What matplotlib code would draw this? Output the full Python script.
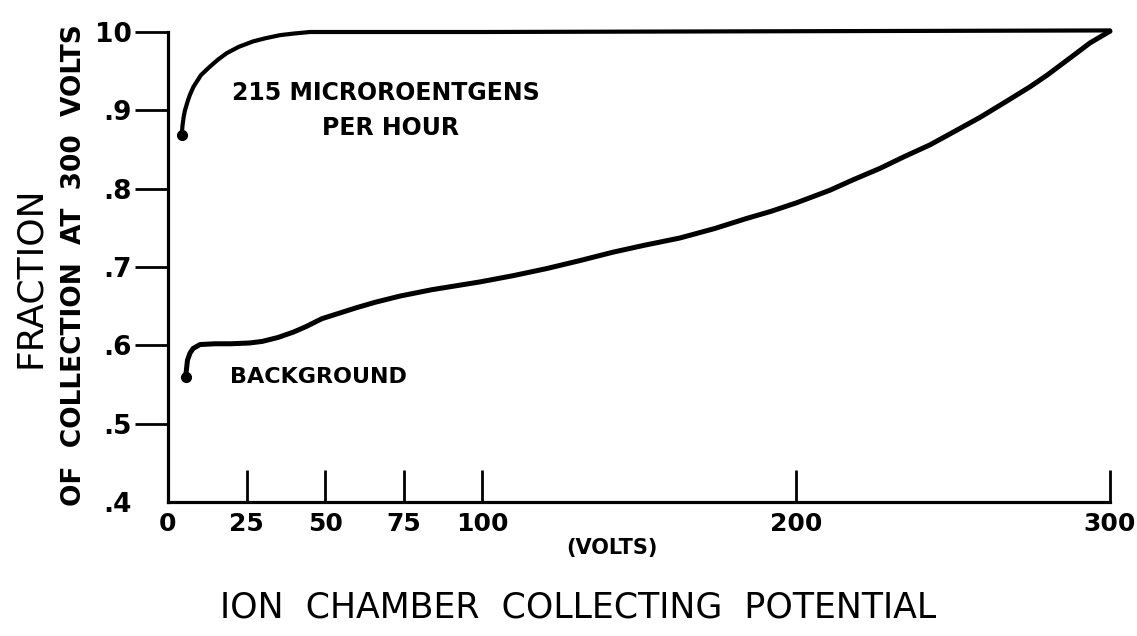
import matplotlib
matplotlib.use("Agg")
import matplotlib.pyplot as plt

# ---- data ----
x_ticks = [0, 25, 50, 75, 100, 200, 300]
x_ticklabels = ["0", "25", "50", "75", "100", "200", "300"]
y_ticks = [0.4, 0.5, 0.6, 0.7, 0.8, 0.9, 1.0]
y_ticklabels = [".4", ".5", ".6", ".7", ".8", ".9", "10"]

high_volts = [4.4, 4.6, 5.0, 5.4, 6.3, 7.0, 8.1, 10.5, 13.4, 16.0, 18.7, 22.5, 27.1, 31.0, 35.7, 40.0, 45.2, 55.0, 100.0, 200.0, 300.0]
high_frac = [0.868, 0.880, 0.892, 0.900, 0.912, 0.920, 0.930, 0.945, 0.956, 0.965, 0.973, 0.981, 0.988, 0.992, 0.996, 0.998, 1.000, 1.000, 1.000, 1.001, 1.002]

bg_volts = [5.6, 5.9, 6.2, 7.0, 8.0, 10.2, 15.0, 20.0, 26.0, 30.0, 35.0, 40.0, 44.0, 49.0, 54.5, 60.0, 66.0, 74.0,
            84.0, 99.4, 110.0, 120.6, 131.0, 141.8, 152.0, 163.0, 174.0, 184.3, 192.0, 200.2, 210.8, 218.0, 226.8,
            234.0, 242.7, 250.0, 258.6, 266.0, 274.5, 280.0, 285.0, 289.0, 293.6, 297.0, 300.0]
bg_frac = [0.559, 0.570, 0.581, 0.590, 0.596, 0.601, 0.602, 0.602, 0.603, 0.605, 0.610, 0.617, 0.624, 0.634, 0.641, 0.648, 0.655, 0.663,
           0.671, 0.681, 0.689, 0.698, 0.708, 0.719, 0.728, 0.737, 0.749, 0.762, 0.771, 0.782, 0.798, 0.811, 0.826,
           0.840, 0.856, 0.872, 0.891, 0.909, 0.930, 0.945, 0.960, 0.972, 0.986, 0.994, 1.001]

start_volts = [high_volts[0], bg_volts[0]]
start_frac = [high_frac[0], bg_frac[0]]

FONT = "DejaVu Sans"


def px(xp, yp):
    return xp / 1137, 1 - yp / 636


fig = plt.figure(figsize=(11.37, 6.36), dpi=100)
ax = fig.add_axes([168 / 1137, 1 - 502 / 636, (1110 - 168) / 1137, (502 - 32) / 636])

ax.plot(high_volts, high_frac, color="black", lw=3.0, solid_capstyle="round", solid_joinstyle="round", clip_on=False)
ax.plot(bg_volts, bg_frac, color="black", lw=3.6, solid_capstyle="round", solid_joinstyle="round", clip_on=False)
ax.plot(start_volts, start_frac, "o", color="black", ms=7, clip_on=False)

ax.set_xlim(0, 300)
ax.set_ylim(0.4, 1.0)

for s in ["top", "right"]:
    ax.spines[s].set_visible(False)
for s in ["left", "bottom"]:
    ax.spines[s].set_linewidth(2.3)
    ax.spines[s].set_capstyle("projecting")

ax.set_xticks(x_ticks)
ax.set_xticklabels(x_ticklabels, fontsize=18, fontweight="bold", family=FONT)
ax.set_yticks(y_ticks)
ax.set_yticklabels(y_ticklabels, fontsize=19, fontweight="bold", family=FONT)

ax.tick_params(axis="x", direction="in", length=23, width=2.0, pad=7)
ax.tick_params(axis="y", direction="out", length=24, width=2.0, pad=2)

# hide tick marks that would sit on the corner
ax.yaxis.get_major_ticks()[0].tick1line.set_visible(False)
ax.xaxis.get_major_ticks()[0].tick1line.set_visible(False)

# annotations
fig.text(*px(232, 93), "215 MICROROENTGENS", fontsize=17, fontweight="bold", family=FONT, va="center", ha="left")
fig.text(*px(391, 128), "PER HOUR", fontsize=17, fontweight="bold", family=FONT, va="center", ha="center")
fig.text(*px(230, 377), "BACKGROUND", fontsize=16, fontweight="bold", family=FONT, va="center", ha="left")

fig.text(*px(612, 548), "(VOLTS)", fontsize=15, fontweight="bold", family=FONT, va="center", ha="center")
fig.text(*px(578, 608), "ION  CHAMBER  COLLECTING  POTENTIAL", fontsize=25, family=FONT, va="center", ha="center")

fig.text(*px(30, 277), "FRACTION", fontsize=26, family=FONT, rotation=90, va="center", ha="center")
fig.text(*px(74, 265), "OF  COLLECTION  AT  300  VOLTS", fontsize=19, fontweight="bold", family=FONT,
         rotation=90, va="center", ha="center")

fig.savefig("out.png", dpi=100)
